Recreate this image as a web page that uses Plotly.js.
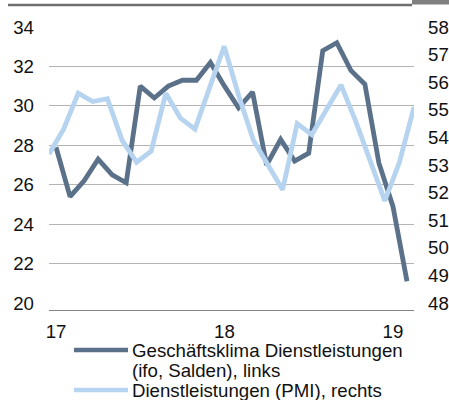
<!DOCTYPE html>
<html>
<head>
<meta charset="utf-8">
<script src="https://cdn.plot.ly/plotly-3.0.1.min.js"></script>
<style>
  html, body { margin: 0; padding: 0; background: #fff; }
  #chart { width: 449px; height: 400px; }
</style>
</head>
<body>
<div id="chart"></div>
<script>
// ---- data ----
const months = ['Jan 17','Feb 17','Mär 17','Apr 17','Mai 17','Jun 17','Jul 17','Aug 17','Sep 17','Okt 17','Nov 17','Dez 17',
                'Jan 18','Feb 18','Mär 18','Apr 18','Mai 18','Jun 18','Jul 18','Aug 18','Sep 18','Okt 18','Nov 18','Dez 18',
                'Jan 19','Feb 19'];
const ifoValues = [27.9, 25.4, 26.2, 27.3, 26.5, 26.1, 31.0, 30.4, 31.0, 31.3, 31.3, 32.2,
                   31.0, 29.9, 30.7, 27.0, 28.3, 27.2, 27.6, 32.8, 33.2, 31.8, 31.1, 27.1,
                   24.9, 21.1];
const pmiValues = [53.4, 54.3, 55.6, 55.3, 55.4, 53.9, 53.1, 53.5, 55.6, 54.7, 54.3, 55.8,
                   57.3, 55.5, 53.9, 53.0, 52.1, 54.5, 54.1, 55.0, 55.9, 54.6, 53.2, 51.7,
                   53.1, 55.1];
const xTickMonths = ['Jan 17', 'Jan 18', 'Jan 19'];
const xTickLabels = ['17', '18', '19'];
const leftTicks = [20, 22, 24, 26, 28, 30, 32, 34];
const rightTicks = [48, 49, 50, 51, 52, 53, 54, 55, 56, 57, 58];
const seriesNames = ['Geschäftsklima Dienstleistungen', '(ifo, Salden), links', 'Dienstleistungen (PMI), rechts'];

// ---- geometry / style ----
const W = 449, H = 400;
const M = { l: 49, r: 35, t: 27, b: 90 };
const pw = W - M.l - M.r, ph = H - M.t - M.b;
const px = x => (x - M.l) / pw;           // pixel -> paper x
const py = y => (H - M.b - y) / ph;       // pixel -> paper y
const darkColor = '#5a7189';
const lightColor = '#b6d3f0';
const font = { family: 'Liberation Sans, Arial, sans-serif', size: 18.67, color: '#111111' };

const traces = [
  { x: months, y: ifoValues, xaxis: 'x', yaxis: 'y', type: 'scatter', mode: 'lines',
    name: seriesNames[0] + ' ' + seriesNames[1], line: { color: darkColor, width: 4.8 }, hoverinfo: 'skip' },
  { x: months, y: pmiValues, xaxis: 'x2', yaxis: 'y2', type: 'scatter', mode: 'lines',
    name: seriesNames[2], line: { color: lightColor, width: 4.8 }, hoverinfo: 'skip' },
  // invisible helper to carry the grid axis
  { x: [months[0]], y: [leftTicks[0]], xaxis: 'x', yaxis: 'y3', type: 'scatter', mode: 'markers',
    marker: { opacity: 0 }, showlegend: false, hoverinfo: 'skip' }
];

const leftRange = [20 - 7 / (276 / 14), 34];
const rightRange = [48 - 7 / (276 / 10), 58];

const layout = {
  width: W, height: H,
  margin: M,
  paper_bgcolor: '#ffffff', plot_bgcolor: 'rgba(0,0,0,0)',
  font: font,
  showlegend: false,
  xaxis: {
    type: 'category', categoryarray: months, range: [-0.5, months.length - 0.5],
    tickmode: 'array', tickvals: xTickMonths, ticktext: xTickLabels,
    showgrid: false, zeroline: false, showline: true, linecolor: '#858585', linewidth: 1.3,
    ticks: '', ticklabelstandoff: 4, tickfont: font, fixedrange: true
  },
  xaxis2: {
    type: 'category', categoryarray: months, range: [0, months.length - 1],
    overlaying: 'x', visible: false, fixedrange: true
  },
  yaxis: {
    range: leftRange, tickmode: 'array', tickvals: leftTicks, ticktext: leftTicks.map(String),
    showgrid: false, zeroline: false, showline: false, ticks: '', ticklabelstandoff: 14,
    tickfont: font, fixedrange: true
  },
  yaxis2: {
    range: rightRange, overlaying: 'y', side: 'right', tickmode: 'array', tickvals: rightTicks,
    ticktext: rightTicks.map(String), showgrid: false, zeroline: false, showline: false,
    ticks: '', ticklabelstandoff: 13, tickfont: font, fixedrange: true
  },
  yaxis3: {
    range: leftRange, overlaying: 'y', tickmode: 'array', tickvals: leftTicks.slice(1),
    showticklabels: false, showgrid: true, gridcolor: '#b3b3b3', gridwidth: 1.2,
    zeroline: false, showline: false, ticks: '', fixedrange: true
  },
  shapes: [
    // top rule and grey tab of the cropped header
    { type: 'rect', xref: 'paper', yref: 'paper', layer: 'above', x0: px(8), x1: px(412), y0: py(6.2), y1: py(3.8),
      fillcolor: '#6f6f6f', line: { width: 0 } },
    { type: 'rect', xref: 'paper', yref: 'paper', layer: 'above', x0: px(412), x1: px(449), y0: py(4.5), y1: py(0),
      fillcolor: '#808080', line: { width: 0 } },
    // legend keys
    { type: 'line', xref: 'paper', yref: 'paper', x0: px(74), x1: px(128), y0: py(350), y1: py(350),
      line: { color: darkColor, width: 4.6 } },
    { type: 'line', xref: 'paper', yref: 'paper', x0: px(74), x1: px(128), y0: py(390), y1: py(390),
      line: { color: lightColor, width: 4.6 } }
  ],
  annotations: [
    { text: seriesNames[0], xref: 'paper', yref: 'paper', x: px(130), y: py(350), xanchor: 'left', yanchor: 'middle', showarrow: false, font: font },
    { text: seriesNames[1], xref: 'paper', yref: 'paper', x: px(130), y: py(370), xanchor: 'left', yanchor: 'middle', showarrow: false, font: font },
    { text: seriesNames[2], xref: 'paper', yref: 'paper', x: px(130), y: py(390), xanchor: 'left', yanchor: 'middle', showarrow: false, font: font }
  ]
};

Plotly.newPlot('chart', traces, layout, { staticPlot: true, displayModeBar: false });
</script>
</body>
</html>
